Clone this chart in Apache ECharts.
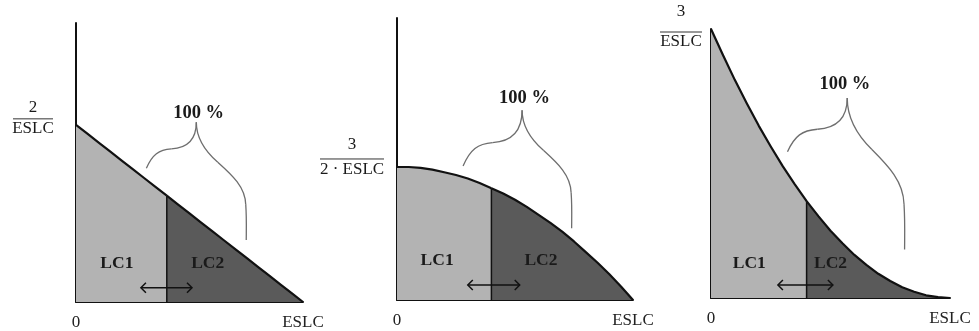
<!DOCTYPE html>
<html><head><meta charset="utf-8">
<script src="https://cdn.jsdelivr.net/npm/echarts@6/dist/echarts.min.js"></script>
<style>html,body{margin:0;padding:0;background:#fff}#c{width:979px;height:331px}</style>
</head><body><div id="c"></div>
<script>
// ---- data (x as share of ESLC, y in units of 1/ESLC) ----
const xShare = [0,0.05,0.1,0.15,0.2,0.25,0.3,0.35,0.4,0.45,0.5,0.55,0.6,0.65,0.7,0.75,0.8,0.85,0.9,0.95,1];
const densityLinear  = [2.00,1.90,1.80,1.70,1.60,1.50,1.40,1.30,1.20,1.10,1.00,0.90,0.80,0.70,0.60,0.50,0.40,0.30,0.20,0.10,0.00];
const densityConcave = [1.50,1.50,1.49,1.47,1.44,1.41,1.37,1.32,1.26,1.20,1.13,1.05,0.96,0.87,0.77,0.66,0.54,0.42,0.29,0.15,0.00];
const densityConvex  = [3.00,2.71,2.43,2.17,1.92,1.69,1.47,1.27,1.08,0.91,0.75,0.61,0.48,0.37,0.27,0.19,0.12,0.07,0.03,0.01,0.00];
const splitShare = 0.4;
const xTickLabels = ['0','ESLC'];
const yPeakValues = [2, 1.5, 3];
const yPeakNumerators = ['2','3','3'];
const yPeakDenominators = ['ESLC','2 · ESLC','ESLC'];
const segmentLabels = ['LC1','LC2'];
const totalLabel = '100 %';

// ---- styling / layout ----
const FONT = '"Liberation Serif", "DejaVu Serif", serif';
const LIGHT = '#b3b3b3', DARK = '#5a5a5a', INK = '#111';
const layout = [
  {left:76, top:23, width:227, height:279, yMax:3.15,
   frac:{dx:-43, dy:-6, w:40, ny:-11, dny:10},
   lc1:[0.18,0.44], lc2:[0.58,0.44], arrow:[0.286,0.511,0.16], total:[0.54,2.13],
   brace:{L:[0.31,1.51], P:[0.53,2.03], R:[0.75,0.70]}},
  {left:397, top:18, width:236, height:282, yMax:3.18,
   frac:{dx:-45, dy:-8, w:64, ny:-14, dny:11},
   lc1:[0.17,0.45], lc2:[0.61,0.45], arrow:[0.30,0.52,0.17], total:[0.54,2.27],
   brace:{L:[0.28,1.51], P:[0.53,2.14], R:[0.74,0.81]}},
  {left:711, top:29, width:239, height:269, yMax:3,
   frac:{dx:-30, dy:3, w:42, ny:-20, dny:10},
   lc1:[0.16,0.39], lc2:[0.50,0.39], arrow:[0.28,0.51,0.145], total:[0.56,2.38],
   brace:{L:[0.32,1.63], P:[0.57,2.23], R:[0.81,0.54]}}
];

const densities = [densityLinear, densityConcave, densityConvex];
const splitIdx = xShare.indexOf(splitShare);

const chart = echarts.init(document.getElementById('c'), null, {renderer:'canvas'});

const grids = layout.map(L => ({left:L.left, top:L.top, width:L.width, height:L.height, containLabel:false, outerBoundsMode:'none'}));
const xAxes = layout.map((L,i) => ({
  type:'value', gridIndex:i, min:0, max:1, interval:1,
  axisLine:{show:true, onZero:false, lineStyle:{color:INK, width:2}},
  axisTick:{show:false}, splitLine:{show:false},
  axisLabel:{show:true, showMinLabel:true, showMaxLabel:true, hideOverlap:false, margin:12,
    formatter: v => v === 0 ? xTickLabels[0] : xTickLabels[1],
    fontSize:17, fontFamily:FONT, color:'#222'}
}));
const yAxes = layout.map((L,i) => ({
  type:'value', gridIndex:i, min:0, max:L.yMax,
  axisLine:{show:true, onZero:false, lineStyle:{color:INK, width:2}},
  axisTick:{show:false}, splitLine:{show:false}, axisLabel:{show:false}
}));

const series = [];
densities.forEach((d,i) => {
  const pts = xShare.map((x,k) => [x, d[k]]);
  const common = {type:'line', xAxisIndex:i, yAxisIndex:i, symbol:'none', smooth:false,
    lineStyle:{color:INK, width:2.2, join:'round'}, silent:true, animation:false};
  series.push(Object.assign({}, common, {name:segmentLabels[0], data:pts.slice(0, splitIdx+1), areaStyle:{color:LIGHT, opacity:1}, z:2}));
  series.push(Object.assign({}, common, {name:segmentLabels[1], data:pts.slice(splitIdx), areaStyle:{color:DARK, opacity:1}, z:2}));
  series.push({type:'line', xAxisIndex:i, yAxisIndex:i, symbol:'none', silent:true, animation:false,
    data:[[splitShare,0],[splitShare,d[splitIdx]]], lineStyle:{color:INK, width:1.5}, z:3});
});

chart.setOption({animation:false, backgroundColor:'#fff', grid:grids, xAxis:xAxes, yAxis:yAxes, series:series});

function braceSegments(L,P,R){
  const dx = P[0]-L[0], dy = L[1]-P[1];
  const rdx = R[0]-P[0], rdy = R[1]-P[1];
  const segs = [];
  const seg = (s,c1,c2,e) => segs.push({x1:s[0],y1:s[1],cpx1:c1[0],cpy1:c1[1],cpx2:c2[0],cpy2:c2[1],x2:e[0],y2:e[1]});
  const A = [L[0]+0.5*dx, L[1]-0.42*dy];
  seg(L, [L[0]+0.12*dx, L[1]-0.3*dy], [L[0]+0.25*dx, L[1]-0.4*dy], A);
  seg(A, [L[0]+0.8*dx, L[1]-0.44*dy], [P[0], L[1]-0.6*dy], P);
  const B = [P[0]+0.43*rdx, P[1]+0.34*rdy];
  seg(P, [P[0], P[1]+0.12*rdy], [P[0]+0.16*rdx, P[1]+0.24*rdy], B);
  const C = [P[0]+0.99*rdx, P[1]+0.70*rdy];
  seg(B, [P[0]+0.72*rdx, P[1]+0.45*rdy], [P[0]+0.98*rdx, P[1]+0.55*rdy], C);
  seg(C, [P[0]+1.01*rdx, P[1]+0.82*rdy], [P[0]+1.0*rdx, P[1]+0.93*rdy], R);
  return segs;
}

const graphics = [];
layout.forEach((L,i) => {
  const px = v => chart.convertToPixel({gridIndex:i}, v);
  const peak = px([0, yPeakValues[i]]);
  const cx = peak[0] + L.frac.dx, by = peak[1] + L.frac.dy;
  const txt = (s, x, y, size, weight) => ({type:'text', silent:true, z:10,
    style:{text:s, x:x, y:y, align:'center', verticalAlign:'middle', fontSize:size, fontWeight:weight||'normal', fontFamily:FONT, fill:'#1a1a1a'}});
  graphics.push(txt(yPeakNumerators[i], cx, by + L.frac.ny, 17));
  graphics.push({type:'line', silent:true, shape:{x1:cx-L.frac.w/2, y1:by, x2:cx+L.frac.w/2, y2:by}, style:{stroke:'#333', lineWidth:1}});
  graphics.push(txt(yPeakDenominators[i], cx, by + L.frac.dny, 17));
  const p1 = px(L.lc1), p2 = px(L.lc2);
  graphics.push(txt(segmentLabels[0], p1[0], p1[1], 17.5, 'bold'));
  graphics.push(txt(segmentLabels[1], p2[0], p2[1], 17.5, 'bold'));
  const pt = px(L.total);
  graphics.push(txt(totalLabel, pt[0], pt[1], 18.5, 'bold'));
  const a1 = px([L.arrow[0], L.arrow[2]]), a2 = px([L.arrow[1], L.arrow[2]]);
  const ay = a1[1], h = 5;
  graphics.push({type:'line', silent:true, z:10, shape:{x1:a1[0], y1:ay, x2:a2[0], y2:ay}, style:{stroke:INK, lineWidth:1.5}});
  graphics.push({type:'polyline', silent:true, z:10, shape:{points:[[a1[0]+h, ay-h],[a1[0], ay],[a1[0]+h, ay+h]]}, style:{stroke:INK, lineWidth:1.5, fill:null}});
  graphics.push({type:'polyline', silent:true, z:10, shape:{points:[[a2[0]-h, ay-h],[a2[0], ay],[a2[0]-h, ay+h]]}, style:{stroke:INK, lineWidth:1.5, fill:null}});
  const bL = px(L.brace.L), bP = px(L.brace.P), bR = px(L.brace.R);
  braceSegments(bL,bP,bR).forEach(s => graphics.push({type:'bezierCurve', silent:true, z:10, shape:s, style:{stroke:'#6e6e6e', lineWidth:1.3, fill:null}}));
});
chart.setOption({graphic:graphics});
</script></body></html>
